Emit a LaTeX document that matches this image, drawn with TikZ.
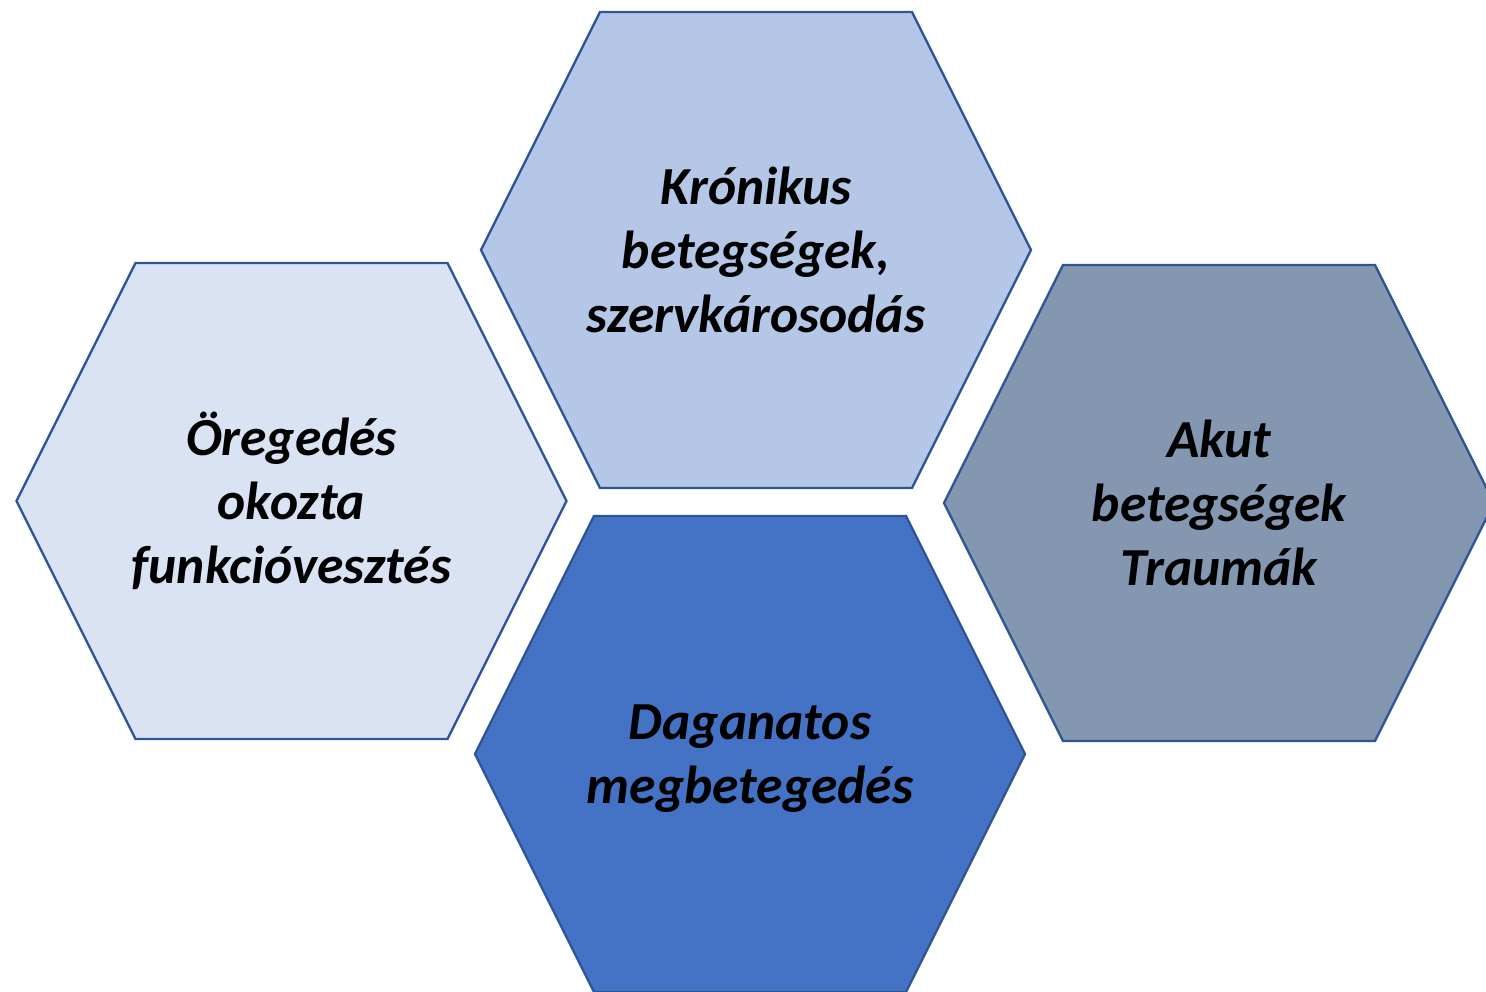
\documentclass[tikz,border=0pt]{standalone}
\usepackage{fontspec}
\setmainfont{Carlito}
\definecolor{hexline}{HTML}{2F5597}
\definecolor{hexA}{HTML}{DAE3F3}
\definecolor{hexB}{HTML}{B4C7E7}
\definecolor{hexC}{HTML}{8497B0}
\definecolor{hexD}{HTML}{4472C4}
\tikzset{
  hexshape/.style={draw=hexline, line width=2.3pt, line join=miter},
  hextext/.style={align=center, text=black, inner sep=0pt,
    font=\fontsize{53.5}{64}\selectfont\bfseries\itshape}
}
\newcommand\myhex[3]{% center x, center y, fill
  \path[hexshape, fill=#3] (#1-156,#2-238) -- (#1+156,#2-238) -- (#1+275,#2)
    -- (#1+156,#2+238) -- (#1-156,#2+238) -- (#1-275,#2) -- cycle;}
\begin{document}
\begin{tikzpicture}[x=1pt,y=-1pt]
\useasboundingbox (0,0) rectangle (1486,991);
\clip (0,0) rectangle (1486,991);
\myhex{291.5}{501}{hexA}
\myhex{756}{250}{hexB}
\myhex{1219}{503}{hexC}
\myhex{750}{754}{hexD}
\node[hextext] (old) at (291.5,501) {Öregedés\\okozta\\funkcióvesztés};
\node[hextext] (chron) at (756,250) {Krónikus\\betegségek,\\szervkárosodás};
\node[hextext] (acute) at (1219,503) {Akut\\betegségek\\Traumák};
\node[hextext] (tumor) at (750,759) {Daganatos\\megbetegedés};
\end{tikzpicture}
\end{document}
